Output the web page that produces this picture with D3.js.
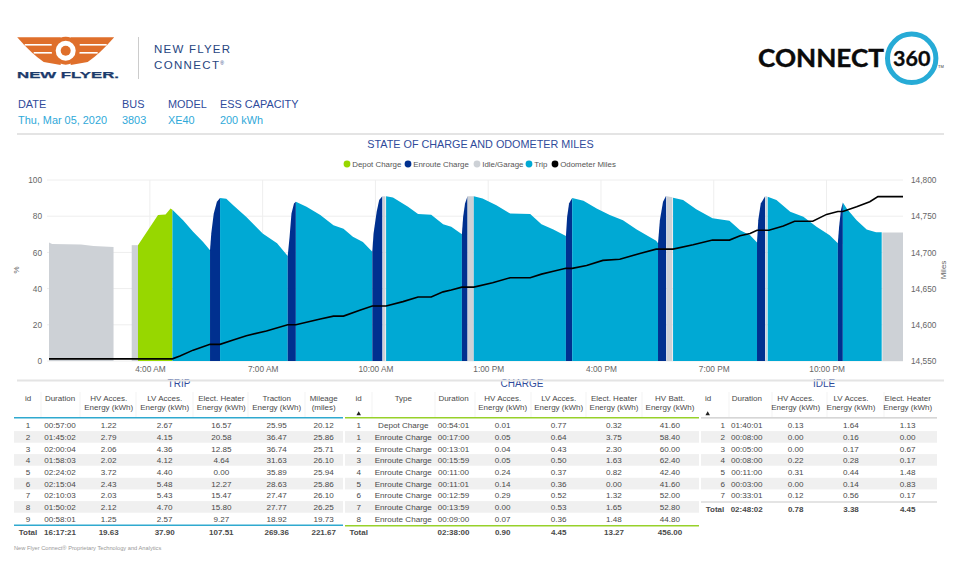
<!DOCTYPE html>
<html>
<head>
<meta charset="utf-8">
<title>New Flyer Connect 360</title>
<script src="https://cdn.jsdelivr.net/npm/d3@7"></script>
<style>
  html, body { margin: 0; padding: 0; background: #fff; }
  svg { display: block; }
  text { font-family: "Liberation Sans", Arial, sans-serif; }
</style>
</head>
<body>
<svg id="page" width="960" height="566"></svg>
<script>
// bus info
const infoLabels = ["DATE", "BUS", "MODEL", "ESS CAPACITY"];
const infoValues = ["Thu, Mar 05, 2020", "3803", "XE40", "200 kWh"];

// legend
const legendNames = ["Depot Charge", "Enroute Charge", "Idle/Garage", "Trip", "Odometer Miles"];

// state of charge, one entry per block. times are minutes after midnight
const segTypes = ["Idle/Garage", "Idle/Garage", "Depot Charge", "Trip", "Enroute Charge", "Trip", "Enroute Charge", "Trip",
  "Enroute Charge", "Idle/Garage", "Trip", "Enroute Charge", "Idle/Garage", "Trip", "Enroute Charge", "Trip",
  "Enroute Charge", "Idle/Garage", "Trip", "Enroute Charge", "Idle/Garage", "Trip", "Enroute Charge", "Trip", "Idle/Garage"];
const segTimes = [
  [79, 84, 130, 150, 182],
  [211, 221],
  [221, 253, 265, 273, 276],
  [276, 293, 309, 325, 336],
  [336, 338, 342, 347, 352],
  [352, 362, 373, 394, 420, 443, 460],
  [460, 463, 466, 470, 473],
  [473, 490, 512, 533, 549, 564, 580, 595],
  [595, 597, 602, 606, 611],
  [612, 616],
  [617, 628, 652, 668, 689, 708, 721, 738],
  [738, 740, 743, 747],
  [747, 757],
  [757, 771, 793, 815, 847, 865, 884, 904],
  [904, 906, 909, 914],
  [914, 932, 953, 974, 995, 1017, 1048, 1051],
  [1051, 1054, 1059, 1064],
  [1065, 1074],
  [1075, 1091, 1112, 1138, 1165, 1182, 1198, 1209],
  [1209, 1211, 1215, 1222],
  [1223, 1225],
  [1226, 1240, 1262, 1283, 1304, 1325, 1338],
  [1338, 1340, 1343, 1346],
  [1346, 1353, 1368, 1384, 1399, 1408],
  [1409, 1442]
];
const segSoc = [
  [65.5, 64.6, 64.3, 63.5, 63],
  [64, 64],
  [64, 80.6, 81, 84.2, 83.6],
  [83.6, 77.8, 71.4, 65.8, 61.2],
  [61.2, 70.5, 81.5, 88, 90],
  [90, 89.7, 86.1, 79.6, 70.5, 65, 58],
  [58, 68.6, 81.5, 87, 88],
  [88, 85.2, 80.6, 75, 73, 68.6, 65.8, 60.3],
  [60.3, 70.5, 82.4, 89, 91],
  [91, 91],
  [91, 90.4, 85.2, 81.2, 80.8, 75.6, 74.2, 70],
  [70, 79.7, 87, 91],
  [91, 91],
  [91, 89.8, 86, 81.5, 81.2, 75.5, 72.7, 69],
  [69, 79.7, 87, 90],
  [90, 88.5, 84.3, 80.6, 77.8, 72.7, 66.4, 65],
  [65, 77.8, 88, 91.3],
  [91, 90.5],
  [90.2, 89, 83.8, 78.8, 77.5, 72.3, 69.5, 65.5],
  [65.5, 77.8, 87, 91],
  [91, 91],
  [90.8, 89, 82.4, 79.7, 74.2, 69.5, 65],
  [65, 74, 83.4, 87.6],
  [87.6, 83.8, 77.8, 72.7, 71.2, 71.2],
  [71, 71]
];

// odometer
const odoTimes = [79, 276, 288, 309, 336, 352, 373, 394, 426, 460, 473, 512, 533, 549, 575, 595, 617, 644, 668, 689, 708, 721,
  738, 757, 787, 815, 847, 865, 884, 904, 914, 937, 963, 990, 1022, 1048, 1075, 1107, 1138, 1165, 1182, 1198, 1209, 1228,
  1251, 1269, 1298, 1320, 1338, 1346, 1368, 1389, 1402, 1442];
const odoMiles = [14553, 14553, 14557, 14565, 14573, 14573, 14579, 14585, 14591.5, 14600, 14600, 14608, 14612, 14612, 14620, 14626, 14626, 14632, 14638.5, 14638.5, 14645.5, 14648,
  14652, 14652, 14658, 14665, 14665, 14670, 14674, 14678, 14678, 14682, 14689, 14690.6, 14698.5, 14704.5, 14704.5, 14710.5, 14717, 14717, 14723, 14726, 14730.5, 14730.5,
  14736.5, 14743, 14743, 14752.5, 14756.5, 14756.5, 14763, 14770, 14777, 14777];

const timeTicks = [240, 420, 600, 780, 960, 1140, 1320];
const socTicks = [0, 20, 40, 60, 80, 100];
const mileTicks = [14550, 14600, 14650, 14700, 14750, 14800];

// trip table
const tripHead = [["id"], ["Duration"], ["HV Acces.", "Energy (kWh)"], ["LV Acces.", "Energy (kWh)"], ["Elect. Heater", "Energy (kWh)"], ["Traction", "Energy (kWh)"], ["Mileage", "(miles)"]];
const tripIds = ["1", "2", "3", "4", "5", "6", "7", "8", "9", "Total"];
const tripDuration = ["00:57:00", "01:45:02", "02:00:04", "01:58:03", "02:24:02", "02:15:04", "02:10:03", "01:50:02", "00:58:01", "16:17:21"];
const tripHv = ["1.22", "2.79", "2.06", "2.02", "3.72", "2.43", "2.03", "2.12", "1.25", "19.63"];
const tripLv = ["2.67", "4.15", "4.36", "4.12", "4.40", "5.48", "5.43", "4.70", "2.57", "37.90"];
const tripHeater = ["16.57", "20.58", "12.85", "4.64", "0.00", "12.27", "15.47", "15.80", "9.27", "107.51"];
const tripTraction = ["25.95", "36.47", "36.74", "31.63", "35.89", "28.63", "27.47", "27.77", "18.92", "269.36"];
const tripMileage = ["20.12", "25.86", "25.71", "26.10", "25.94", "25.86", "26.10", "26.25", "19.73", "221.67"];

// charge table
const chargeHead = [["id"], ["Type"], ["Duration"], ["HV Acces.", "Energy (kWh)"], ["LV Acces.", "Energy (kWh)"], ["Elect. Heater", "Energy (kWh)"], ["HV Batt.", "Energy (kWh)"]];
const chargeIds = ["1", "1", "2", "3", "4", "5", "6", "7", "8", "Total"];
const chargeType = ["Depot Charge", "Enroute Charge", "Enroute Charge", "Enroute Charge", "Enroute Charge", "Enroute Charge", "Enroute Charge", "Enroute Charge", "Enroute Charge", ""];
const chargeDuration = ["00:54:01", "00:17:00", "00:13:01", "00:15:59", "00:11:00", "00:11:01", "00:12:59", "00:13:59", "00:09:00", "02:38:00"];
const chargeHv = ["0.01", "0.05", "0.04", "0.05", "0.24", "0.14", "0.29", "0.00", "0.07", "0.90"];
const chargeLv = ["0.77", "0.64", "0.43", "0.50", "0.37", "0.36", "0.52", "0.53", "0.36", "4.45"];
const chargeHeater = ["0.32", "3.75", "2.30", "1.63", "0.82", "0.00", "1.32", "1.65", "1.48", "13.27"];
const chargeBatt = ["41.60", "58.40", "60.00", "62.40", "42.40", "41.60", "52.00", "52.80", "44.80", "456.00"];

// idle table
const idleHead = [["id"], ["Duration"], ["HV Acces.", "Energy (kWh)"], ["LV Acces.", "Energy (kWh)"], ["Elect. Heater", "Energy (kWh)"]];
const idleIds = ["1", "2", "3", "4", "5", "6", "7", "Total"];
const idleDuration = ["01:40:01", "00:08:00", "00:05:00", "00:08:00", "00:11:00", "00:03:00", "00:33:01", "02:48:02"];
const idleHv = ["0.13", "0.00", "0.00", "0.22", "0.31", "0.00", "0.12", "0.78"];
const idleLv = ["1.64", "0.16", "0.17", "0.28", "0.44", "0.14", "0.56", "3.38"];
const idleHeater = ["1.13", "0.00", "0.67", "0.17", "1.48", "0.83", "0.17", "4.45"];

const colors = d3.scaleOrdinal()
  .domain(legendNames)
  .range(["#97d700", "#00308f", "#cdd1d6", "#00a9d4", "#000000"]);

const labelBlue = "#2f4b9b";
const cyan = "#2fa9d9";
const grey = "#666";

const svg = d3.select("#page");
const toDate = m => new Date(2020, 2, 5, 0, m);

// ---- logos ----
const logo = svg.append("g");
const orange = "#df6f2b";
[1, -1].forEach(s => {
  const wing = logo.append("g").attr("transform", `translate(65.7,0) scale(${s},1)`);
  wing.append("path")
    .attr("d", "M-48.5,37.3 L-5,37.3 L-5,65 L-22,62 Q-34,54 -48.5,37.3 Z")
    .attr("fill", orange);
  wing.append("rect").attr("x", -41).attr("y", 44).attr("width", 27).attr("height", 1.6).attr("fill", "#fff");
  wing.append("rect").attr("x", -32).attr("y", 52).attr("width", 19).attr("height", 1.6).attr("fill", "#fff");
});
logo.append("circle").attr("cx", 65.7).attr("cy", 50.7).attr("r", 14).attr("fill", orange);
logo.append("circle").attr("cx", 65.7).attr("cy", 50.7).attr("r", 10).attr("fill", "#fff");
logo.append("circle").attr("cx", 65.7).attr("cy", 50.7).attr("r", 5).attr("fill", orange);
logo.append("text").attr("x", 17).attr("y", 78.3)
  .attr("textLength", 102).attr("lengthAdjust", "spacingAndGlyphs")
  .attr("font-size", 9.6).attr("font-weight", 700).attr("fill", "#1b3a6b")
  .attr("stroke", "#1b3a6b").attr("stroke-width", 0.25).text("NEW FLYER.");
logo.append("line").attr("x1", 138.5).attr("x2", 138.5).attr("y1", 37).attr("y2", 79).attr("stroke", "#ccc");
logo.append("text").attr("x", 154).attr("y", 53)
  .attr("textLength", 76).attr("font-size", 11.5).attr("fill", "#27467f").text("NEW FLYER");
const connectWord = logo.append("text").attr("x", 154).attr("y", 69)
  .attr("font-size", 11.5).attr("letter-spacing", 1.35).attr("fill", "#27467f");
connectWord.append("tspan").text("CONNECT");
connectWord.append("tspan").attr("font-size", 5).attr("dy", -4).text("\u00ae");

const c360 = svg.append("g");
c360.append("text").attr("x", 758).attr("y", 66.8)
  .attr("textLength", 126).attr("lengthAdjust", "spacingAndGlyphs")
  .attr("font-size", 24.5).attr("font-weight", 700).attr("fill", "#0b0b0b")
  .attr("stroke", "#0b0b0b").attr("stroke-width", 0.4)
  .style("font-family", "Lato").text("CONNECT");
c360.append("circle").attr("cx", 911.7).attr("cy", 58.3).attr("r", 24.2)
  .attr("fill", "#fff").attr("stroke", "#27abd6").attr("stroke-width", 5);
c360.append("text").attr("x", 911.7).attr("y", 66.4).attr("text-anchor", "middle")
  .attr("font-size", 21.5).attr("font-weight", 700).attr("fill", "#0b0b0b")
  .attr("stroke", "#0b0b0b").attr("stroke-width", 0.3)
  .style("font-family", "Lato").text("360");
c360.append("text").attr("x", 938).attr("y", 68).attr("font-size", 4).attr("fill", "#333").text("TM");

// ---- bus info ----
const infoX = [18, 122, 168, 220];
svg.append("g").selectAll("text").data(infoLabels).join("text")
  .attr("x", (d, i) => infoX[i]).attr("y", 108)
  .attr("font-size", 10.9).attr("fill", labelBlue).text(d => d);
svg.append("g").selectAll("text").data(infoValues).join("text")
  .attr("x", (d, i) => infoX[i]).attr("y", 124)
  .attr("font-size", 10.9).attr("fill", cyan).text(d => d);

// ---- chart ----
const margin = { top: 180, right: 57, bottom: 205, left: 49 };
const width = 960 - margin.left - margin.right;
const height = 566 - margin.top - margin.bottom;

const x = d3.scaleTime().domain([toDate(79), toDate(1442)]).range([0, width]);
const ySoc = d3.scaleLinear().domain([0, 100]).range([height, 0]);
const yMiles = d3.scaleLinear().domain([14550, 14800]).range([height, 0]);

svg.append("text").attr("x", 480.5).attr("y", 148).attr("text-anchor", "middle")
  .attr("font-size", 10.8).attr("fill", labelBlue).text("STATE OF CHARGE AND ODOMETER MILES");

const legendDot = [347, 408, 477, 529, 555];
const legend = svg.append("g").selectAll("g").data(legendNames).join("g")
  .attr("transform", (d, i) => `translate(${legendDot[i]},164)`);
legend.append("circle").attr("r", 3.4).attr("fill", d => colors(d));
legend.append("text").attr("x", 5.2).attr("y", 2.9).attr("font-size", 7.9).attr("fill", "#555").text(d => d);

const chart = svg.append("g").attr("transform", `translate(${margin.left},${margin.top})`);

// grid
chart.append("g").selectAll("line").data(socTicks).join("line")
  .attr("x1", -2).attr("x2", width)
  .attr("y1", d => ySoc(d)).attr("y2", d => ySoc(d))
  .attr("stroke", "#eee");
chart.append("g").selectAll("line").data(timeTicks).join("line")
  .attr("x1", d => x(toDate(d))).attr("x2", d => x(toDate(d)))
  .attr("y1", 0).attr("y2", height)
  .attr("stroke", "#eee");

// soc blocks
const area = d3.area()
  .x(d => x(toDate(d[0])))
  .y0(height)
  .y1(d => ySoc(d[1]));

chart.append("g").selectAll("path").data(segTypes).join("path")
  .attr("d", (d, i) => area(segTimes[i].map((t, j) => [t, segSoc[i][j]])))
  .attr("fill", d => colors(d));

// odometer line
const line = d3.line()
  .x(d => x(toDate(d)))
  .y((d, i) => yMiles(odoMiles[i]));

chart.append("path")
  .attr("d", line(odoTimes))
  .attr("fill", "none")
  .attr("stroke", "#000")
  .attr("stroke-width", 1.6);

// axes
const xAxis = chart.append("g").attr("transform", `translate(0,${height})`)
  .call(d3.axisBottom(x).tickValues(timeTicks.map(toDate)).tickFormat(d3.timeFormat("%-I:%M %p")).tickSize(0).tickPadding(5));
const leftAxis = chart.append("g")
  .call(d3.axisLeft(ySoc).tickValues(socTicks).tickSize(0).tickPadding(7));
const rightAxis = chart.append("g").attr("transform", `translate(${width},0)`)
  .call(d3.axisRight(yMiles).tickValues(mileTicks).tickFormat(d3.format(",")).tickSize(0).tickPadding(8));
[xAxis, leftAxis, rightAxis].forEach(a => {
  a.select(".domain").remove();
  a.selectAll("text").attr("font-size", 8.3).attr("fill", grey).style("font-family", '"Liberation Sans"');
});

svg.append("text").attr("transform", "translate(19,270) rotate(-90)").attr("text-anchor", "middle")
  .attr("font-size", 8).attr("fill", grey).text("%");
svg.append("text").attr("transform", "translate(946,270) rotate(-90)").attr("text-anchor", "middle")
  .attr("font-size", 8).attr("fill", grey).text("Miles");

// ---- tables ----
function drawTable(title, titleX, head, columns, bounds, centers, accent, rowY, totalLineY, opts) {
  const g = svg.append("g");
  const left = bounds[0];
  const right = bounds[bounds.length - 1];
  const n = columns[0].length;

  g.append("text").attr("x", titleX).attr("y", 387).attr("text-anchor", "middle")
    .attr("font-size", 10).attr("fill", labelBlue).text(title);

  // striped rows
  g.append("g").selectAll("rect").data(d3.range(1, n - 1, 2)).join("rect")
    .attr("x", left).attr("width", right - left)
    .attr("y", i => rowY[i] - 5.9).attr("height", 11.6)
    .attr("fill", "#f0f0f0");

  // faint column dividers
  g.append("g").selectAll("line").data(bounds.slice(1, -1)).join("line")
    .attr("x1", d => d).attr("x2", d => d).attr("y1", 392).attr("y2", 417)
    .attr("stroke", "#f3f3f3");

  head.forEach((lines, c) => {
    g.append("g").selectAll("text").data(lines).join("text")
      .attr("x", opts.headX ? opts.headX[c] : centers[c])
      .attr("y", (d, i) => 401 + i * 8.8)
      .attr("text-anchor", opts.headX && c < 2 ? "start" : "middle")
      .attr("font-size", 8).attr("fill", "#4a4a4a").text(d => d);
  });

  g.append("line").attr("x1", left).attr("x2", right).attr("y1", 417.8).attr("y2", 417.8)
    .attr("stroke", accent).attr("stroke-width", opts.headWidth);
  g.append("line").attr("x1", left).attr("x2", right).attr("y1", totalLineY).attr("y2", totalLineY)
    .attr("stroke", accent).attr("stroke-width", opts.headWidth);

  if (opts.arrowX) {
    g.append("path").attr("d", d3.symbol(d3.symbolTriangle, 9)())
      .attr("transform", `translate(${opts.arrowX},414)`).attr("fill", "#222");
  }

  columns.forEach((col, c) => {
    g.append("g").selectAll("text").data(col).join("text")
      .attr("x", (d, i) => (c === 0 && opts.idRight && i < n - 1) ? opts.idRight : centers[c])
      .attr("y", (d, i) => rowY[i] + 3)
      .attr("text-anchor", (d, i) => (c === 0 && opts.idRight && i < n - 1) ? "end" : "middle")
      .attr("font-size", (d, i) => i === n - 1 ? 8 : 8.1)
      .attr("font-weight", (d, i) => i === n - 1 ? 700 : 400)
      .attr("fill", "#4a4a4a").text(d => d);
  });
}

const rowsLong = [425.3, 437, 448.5, 460, 472, 483.7, 495.3, 507, 518.7, 532];
const rowsShort = [425.3, 437, 448.5, 460, 472, 483.7, 495.3, 509];

drawTable("TRIP", 179, tripHead,
  [tripIds, tripDuration, tripHv, tripLv, tripHeater, tripTraction, tripMileage],
  [14, 41, 80, 136, 193, 248, 305, 343],
  [28, 60, 108.7, 164.7, 221.3, 276.7, 323.7],
  "#2fa9cf", rowsLong, 525.3, { headWidth: 1.6 });

drawTable("CHARGE", 522, chargeHead,
  [chargeIds, chargeType, chargeDuration, chargeHv, chargeLv, chargeHeater, chargeBatt],
  [345, 372, 435, 475, 531, 586, 642, 699],
  [358.7, 403.3, 453.5, 502.7, 558.7, 614, 670],
  "#97d12a", rowsLong, 525.8, { headWidth: 1.6, arrowX: 358.7 });

drawTable("IDLE", 824, idleHead,
  [idleIds, idleDuration, idleHv, idleLv, idleHeater],
  [701, 729, 772, 827, 884, 937],
  [715, 746.7, 795.7, 851, 907.7],
  "#c9c9c9", rowsShort, 502, { headWidth: 1.2, arrowX: 707.7, idRight: 725, headX: [705, 731.7, 795.7, 851, 907.7] });

// section rules go on top, they clip the table titles in the original
[134, 380.5].forEach(y => {
  svg.append("line").attr("x1", 17).attr("x2", 944).attr("y1", y).attr("y2", y)
    .attr("stroke", "#e4e4e4").attr("stroke-width", 1.8);
});

svg.append("text").attr("x", 14).attr("y", 550)
  .attr("font-size", 5.7).attr("fill", "#999").text("New Flyer Connect\u00ae Proprietary Technology and Analytics");
</script>
</body>
</html>
